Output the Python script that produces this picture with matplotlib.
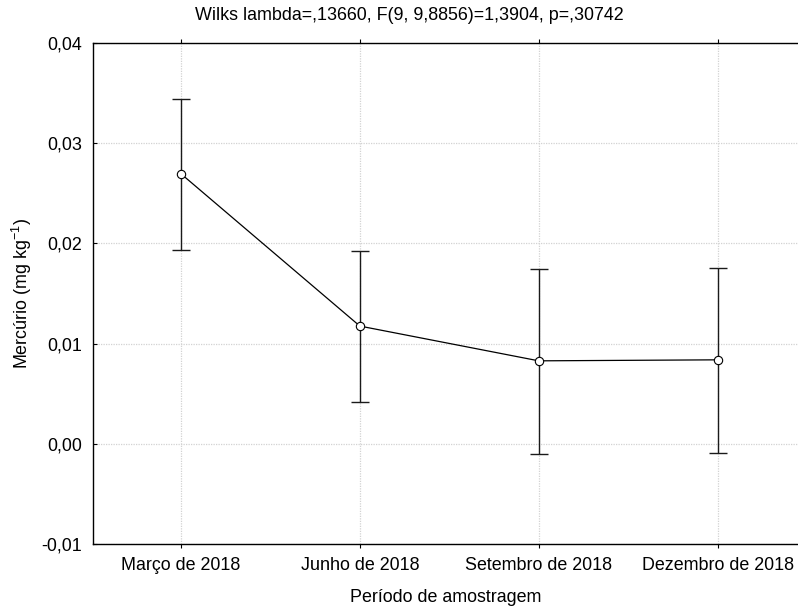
import matplotlib
matplotlib.use("Agg")
import matplotlib.pyplot as plt
import numpy as np

categories = ["Março de 2018", "Junho de 2018", "Setembro de 2018", "Dezembro de 2018"]
means = [0.02695, 0.01175, 0.00828, 0.00838]
upper = [0.03440, 0.01929, 0.01747, 0.01757]
lower = [0.01933, 0.00416, -0.00100, -0.00093]
yticks = [-0.01, 0.00, 0.01, 0.02, 0.03, 0.04]
ytick_labels = ["-0,01", "0,00", "0,01", "0,02", "0,03", "0,04"]
title = "Wilks lambda=,13660, F(9, 9,8856)=1,3904, p=,30742"
xlabel = "Período de amostragem"
ylabel = r"Mercúrio (mg kg$^{\mathregular{-1}}$)"

plt.rcParams['font.family'] = ['Liberation Sans', 'DejaVu Sans']
plt.rcParams['mathtext.fontset'] = 'custom'
plt.rcParams['mathtext.rm'] = 'Liberation Sans'
plt.rcParams['mathtext.it'] = 'Liberation Sans'
plt.rcParams['mathtext.bf'] = 'Liberation Sans'

W, H = 798, 607
fig = plt.figure(figsize=(W / 100, H / 100), dpi=100)
ax = fig.add_axes([93 / W, 1 - 544 / H, (798 - 93) / W, (544 - 43) / H])

x = np.arange(len(categories))
m = np.array(means)
yerr = np.vstack([m - np.array(lower), np.array(upper) - m])

ax.errorbar(x, m, yerr=yerr, fmt='none', ecolor='#1a1a1a', elinewidth=1.0,
            capsize=6.4, capthick=1.0, zorder=3)
ax.plot(x, m, color='black', linewidth=0.9, marker='o', markersize=6,
        markerfacecolor='white', markeredgecolor='black', markeredgewidth=0.8, zorder=4)

ax.set_xlim(-0.4916, 3.449)
ax.set_ylim(-0.01, 0.04)
ax.set_xticks(x)
ax.set_xticklabels(categories)
ax.set_yticks(yticks)
ax.set_yticklabels(ytick_labels)

ax.grid(True, color='#d2d2d2', linestyle=(0, (1, 1)), linewidth=0.9, zorder=0)
ax.set_axisbelow(True)

for s in ['left', 'top', 'bottom']:
    ax.spines[s].set_linewidth(1.0)
    ax.spines[s].set_color('black')
ax.spines['right'].set_visible(False)

ax.tick_params(axis='y', direction='in', length=3, width=0.8, labelsize=12.9, pad=8)
ax.tick_params(axis='x', direction='out', length=3, width=0.8, labelsize=12.9, pad=6,
               top=True)

ax.set_xlabel(xlabel, fontsize=12.9, labelpad=11)
ax.set_ylabel(ylabel, fontsize=12.9, labelpad=5)

fig.text(409 / W, 1 - 15 / H, title, fontsize=12.9, ha='center', va='center')

fig.savefig("out.png", dpi=100)
